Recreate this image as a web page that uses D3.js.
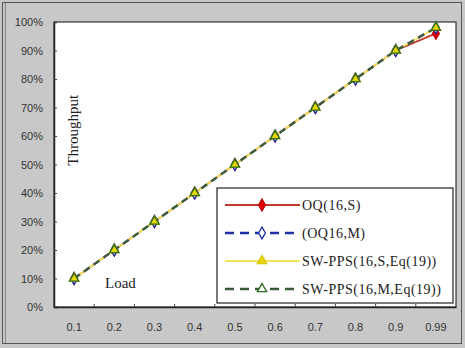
<!DOCTYPE html>
<html>
<head>
  <meta charset="utf-8">
  <script src="https://cdn.jsdelivr.net/npm/d3@7"></script>
  <style>
    body { margin: 0; background: #c8c8c8; }
    svg { display: block; font-family: "Liberation Serif", "Times New Roman", serif; }
    .tick text { font-size: 11px; fill: #333; }
    .legend text { font-size: 14px; fill: #222; letter-spacing: 0.5px; }
  </style>
</head>
<body>
<div class="chart"></div>
<script>
  var loads = ['0.1', '0.2', '0.3', '0.4', '0.5', '0.6', '0.7', '0.8', '0.9', '0.99'];
  var oqS  = [10, 20, 30, 40, 50, 60, 70, 80, 90, 96];
  var oqM  = [10, 20, 30, 40, 50, 60, 70, 80, 90, 98];
  var swS  = [10, 20, 30, 40, 50, 60, 70, 80, 90, 98];
  var swM  = [10, 20, 30, 40, 50, 60, 70, 80, 90, 98];
  var yTicks = [0, 10, 20, 30, 40, 50, 60, 70, 80, 90, 100];

  var series = [
    { name: 'OQ(16,S)', values: oqS, color: '#c0392b', dash: null, marker: 'diamond', fill: '#e00000', mstroke: '#c00000' },
    { name: '(OQ16,M)', values: oqM, color: '#1f2fa8', dash: '7,5', marker: 'diamond', fill: '#ffffff', mstroke: '#1f2fa8' },
    { name: 'SW-PPS(16,S,Eq(19))', values: swS, color: '#f2e35a', dash: null, marker: 'triangle', fill: '#e8d800', mstroke: '#d8c800' },
    { name: 'SW-PPS(16,M,Eq(19))', values: swM, color: '#3a5a3a', dash: '7,5', marker: 'triangle', fill: 'none', mstroke: '#2e6b1e' }
  ];

  var W = 465, H = 348;
  var margin = { top: 22, right: 9, bottom: 41, left: 54 };
  var width = W - margin.left - margin.right;
  var height = H - margin.top - margin.bottom;

  var svg = d3.select('.chart').append('svg')
    .attr('width', W).attr('height', H);

  // outer frame
  svg.append('rect').attr('x', 2.5).attr('y', 2.5).attr('width', 459).attr('height', 341)
    .attr('fill', '#c8c8c8').attr('stroke', '#555').attr('stroke-width', 1);
  svg.append('line').attr('x1', 5.5).attr('x2', 5.5).attr('y1', 3).attr('y2', 343)
    .attr('stroke', '#888');

  var g = svg.append('g').attr('transform', 'translate(' + margin.left + ',' + margin.top + ')');

  var x = d3.scaleBand().domain(loads).range([0, width]);
  var y = d3.scaleLinear().domain([0, 100]).range([height, 0]);

  g.append('rect').attr('width', width).attr('height', height)
    .attr('fill', '#fff').attr('stroke', '#333').attr('stroke-width', 1.2);

  // y axis, inward ticks
  var yAxis = g.append('g')
    .call(d3.axisLeft(y).tickValues(yTicks).tickSize(-3).tickPadding(11)
      .tickFormat(function (d) { return d + '%'; }));
  yAxis.select('.domain').attr('stroke', '#222').attr('stroke-width', 1.5);
  yAxis.selectAll('.tick line').attr('stroke', '#444');

  // x axis, ticks at band boundaries
  var xAxis = g.append('g').attr('transform', 'translate(0,' + height + ')')
    .call(d3.axisBottom(x).tickSize(0).tickPadding(16));
  xAxis.select('.domain').attr('stroke', '#222').attr('stroke-width', 1.5);
  xAxis.selectAll('.bound').data(loads.slice(1)).enter().append('line')
    .attr('x1', function (d) { return x(d); }).attr('x2', function (d) { return x(d); })
    .attr('y1', 0).attr('y2', -3).attr('stroke', '#444');

  var line = d3.line()
    .x(function (d, i) { return x(loads[i]) + x.bandwidth() / 2; })
    .y(function (d) { return y(d); });

  var diamond = d3.symbol().type(d3.symbolDiamond).size(40);
  var triangle = d3.symbol().type(d3.symbolTriangle).size(38);

  series.forEach(function (s) {
    g.append('path').datum(s.values)
      .attr('d', line).attr('fill', 'none')
      .attr('stroke', s.color).attr('stroke-width', s.dash ? 2.2 : 1.8)
      .attr('stroke-dasharray', s.dash);
  });

  series.forEach(function (s) {
    g.selectAll(null).data(s.values).enter().append('path')
      .attr('d', s.marker === 'diamond' ? diamond : triangle)
      .attr('transform', function (d, i) {
        return 'translate(' + (x(loads[i]) + x.bandwidth() / 2) + ',' + y(d) + ')';
      })
      .attr('fill', s.fill).attr('stroke', s.mstroke).attr('stroke-width', 1.3);
  });

  // axis titles
  g.append('text')
    .attr('transform', 'translate(24,' + (y(62)) + ') rotate(-90)')
    .attr('text-anchor', 'middle')
    .style('font-size', '15px').attr('fill', '#222')
    .text('Throughput');

  g.append('text')
    .attr('x', 51).attr('y', y(6.5))
    .style('font-size', '15px').attr('fill', '#222')
    .text('Load');

  // legend
  var legend = svg.append('g').attr('class', 'legend').attr('transform', 'translate(217,188)');
  legend.append('rect').attr('width', 236).attr('height', 115)
    .attr('fill', '#fff').attr('stroke', '#222').attr('stroke-width', 1.2);

  series.forEach(function (s, i) {
    var row = legend.append('g').attr('transform', 'translate(0,' + (17 + i * 28) + ')');
    row.append('line').attr('x1', 8).attr('x2', 83).attr('y1', 0).attr('y2', 0)
      .attr('stroke', s.color).attr('stroke-width', s.dash ? 2.5 : 1.8)
      .attr('stroke-dasharray', s.dash ? '9,6' : null);
    row.append('path')
      .attr('d', s.marker === 'diamond' ? diamond : triangle)
      .attr('transform', 'translate(45,0)')
      .attr('fill', s.fill === 'none' ? '#fff' : s.fill)
      .attr('stroke', s.mstroke).attr('stroke-width', 1.3);
    row.append('text').attr('x', 85).attr('y', 5).text(s.name);
  });
</script>
</body>
</html>
